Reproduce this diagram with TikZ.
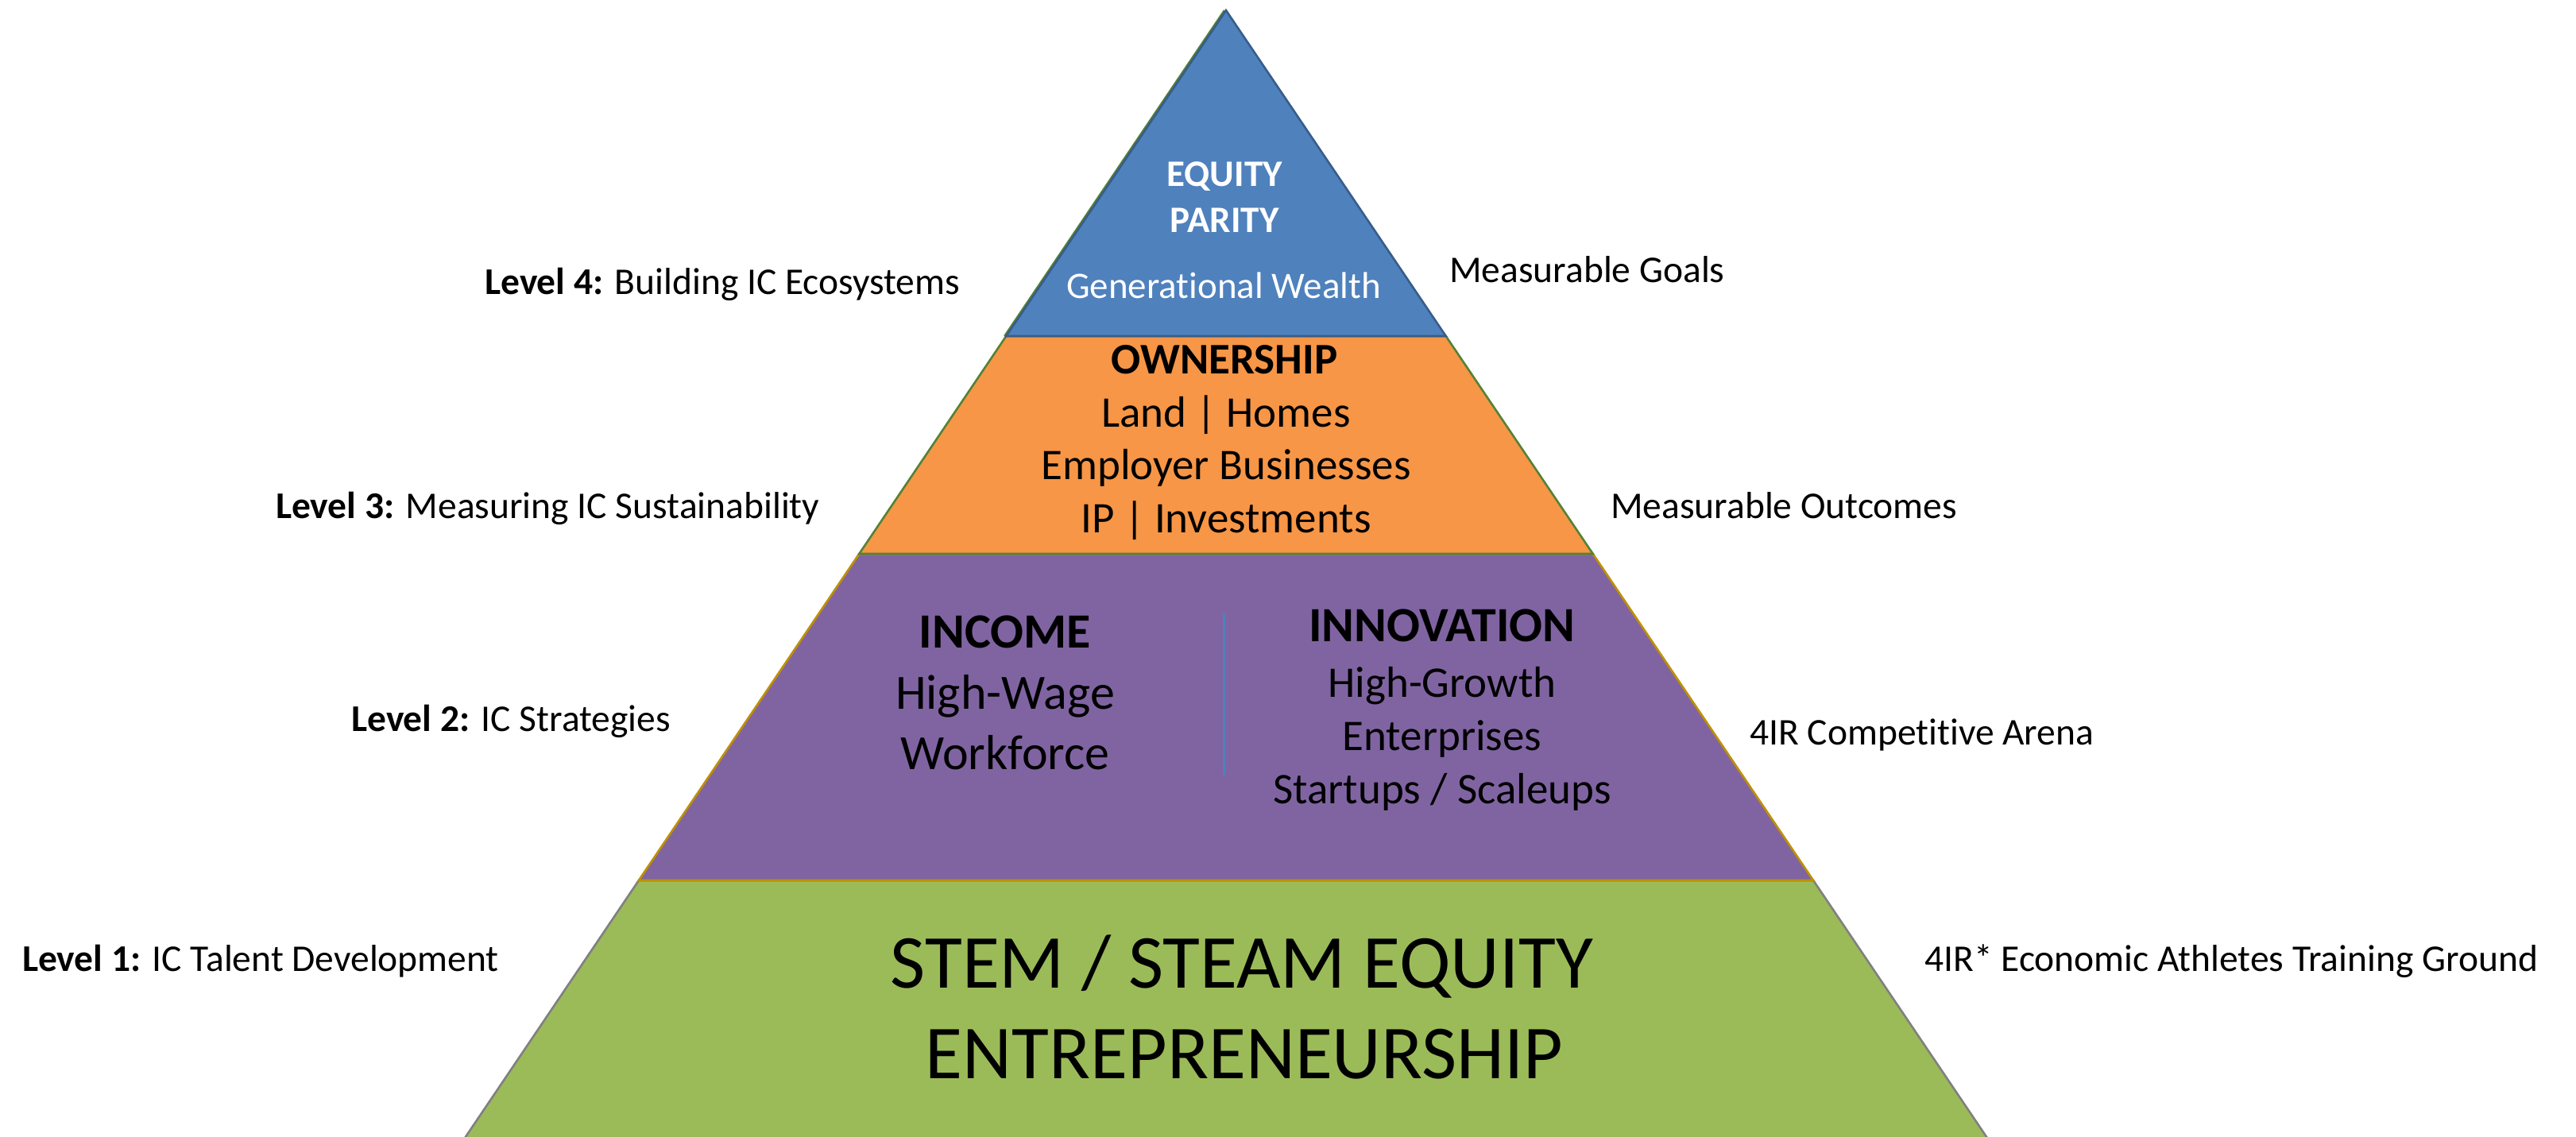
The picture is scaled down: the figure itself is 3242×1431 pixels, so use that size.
\documentclass[tikz,border=0pt]{standalone}
\usepackage{fontspec}
\setmainfont{Carlito}[Ligatures=NoCommon]
\definecolor{tblue}{HTML}{4F81BD}
\definecolor{tblueline}{HTML}{385D8A}
\definecolor{torange}{HTML}{F79646}
\definecolor{tgreenline}{HTML}{548235}
\definecolor{tpurple}{HTML}{8064A2}
\definecolor{tgold}{HTML}{BF9000}
\definecolor{tgreen}{HTML}{9BBB59}
\definecolor{tgray}{HTML}{808080}
\tikzset{
  tier/.style={line width=2.6pt, line join=miter},
  lbl/.style={anchor=base west, inner sep=0pt, font=\fontsize{47.5}{56}\selectfont},
  toptxt/.style={anchor=base, inner sep=0pt, text=white, font=\fontsize{47}{56}\selectfont},
  owntxt/.style={anchor=base, inner sep=0pt, font=\fontsize{55}{66}\selectfont},
  inctxt/.style={anchor=base, inner sep=0pt, font=\fontsize{62}{74}\selectfont},
  invtxt/.style={anchor=base, inner sep=0pt, font=\fontsize{55}{66}\selectfont},
  stemtxt/.style={anchor=base, inner sep=0pt, font=\fontsize{96}{115}\selectfont},
  divider/.style={draw=tblue, line width=3pt}
}
\begin{document}
\begin{tikzpicture}[x=1pt,y=-1pt]
\useasboundingbox (0,0) rectangle (3242,1431);
\fill[white] (0,0) rectangle (3242,1431);
% pyramid corner points
\coordinate (A) at (1543,13);
\coordinate (L1) at (1266.3,423);
\coordinate (R1) at (1819.7,423);
\coordinate (L2) at (1081.3,697);
\coordinate (R2) at (2004.7,697);
\coordinate (L3) at (803.9,1108);
\coordinate (R3) at (2282.1,1108);
\coordinate (L4) at (573,1450);
\coordinate (R4) at (2513,1450);
\begin{scope}
\clip (0,0) rectangle (3242,1431);
\filldraw[tier, fill=tgreen, draw=tgray] (L3) -- (R3) -- (R4) -- (L4) -- cycle;
\filldraw[tier, fill=tpurple, draw=tgold] (L2) -- (R2) -- (R3) -- (L3) -- cycle;
\filldraw[tier, fill=torange, draw=tgreenline] (L1) -- (R1) -- (R2) -- (L2) -- cycle;
\draw[tier, draw=tgreenline] ([xshift=-2pt]A) -- ([xshift=-2pt]L1);
\filldraw[tier, fill=tblue, draw=tblueline] (A) -- (R1) -- (L1) -- cycle;
\end{scope}
% top tier
\node[toptxt] (equity) at (1541,235) {\bfseries EQUITY};
\node[toptxt] (parity) at (1541,293) {\bfseries PARITY};
\node[toptxt] (wealth) at (1540,375) {Generational Wealth};
% orange tier
\node[owntxt] (own) at (1541,470) {\bfseries OWNERSHIP};
\node[owntxt] (land) at (1543,537) {Land | Homes};
\node[owntxt] (empl) at (1543,603) {Employer Businesses};
\node[owntxt] (ip) at (1543,670) {IP | Investments};
% purple tier
\node[inctxt] (income) at (1265,815) {\bfseries INCOME};
\node[inctxt] (wage) at (1265,892) {High-Wage};
\node[inctxt] (work) at (1265,968) {Workforce};
\node[inctxt] (innov) at (1815,807) {\bfseries INNOVATION};
\node[invtxt] (growth) at (1815,877) {High-Growth};
\node[invtxt] (enter) at (1815,944) {Enterprises};
\node[invtxt] (start) at (1815,1011) {Startups / Scaleups};
\coordinate (dtop) at (1540,772);
\coordinate (dbot) at (1540,975);
\draw[divider] (dtop) -- (dbot);
% green tier
\node[stemtxt] (stem) at (1563,1243) {STEM / STEAM EQUITY};
\node[stemtxt] (entre) at (1566,1357) {ENTREPRENEURSHIP};
% left labels
\node[lbl] (lv4) at (610,370) {\textbf{Level 4:} Building IC Ecosystems};
\node[lbl] (lv3) at (347,652) {\textbf{Level 3:} Measuring IC Sustainability};
\node[lbl] (lv2) at (442,920) {\textbf{Level 2:} IC Strategies};
\node[lbl] (lv1) at (28,1222) {\textbf{Level 1:} IC Talent Development};
% right labels
\node[lbl] (goals) at (1824,355) {Measurable Goals};
\node[lbl] (outc) at (2027,652) {Measurable Outcomes};
\node[lbl] (arena) at (2202,937) {4IR Competitive Arena};
\node[lbl] (ground) at (2422,1222) {4IR* Economic Athletes Training Ground};
\end{tikzpicture}
\end{document}
